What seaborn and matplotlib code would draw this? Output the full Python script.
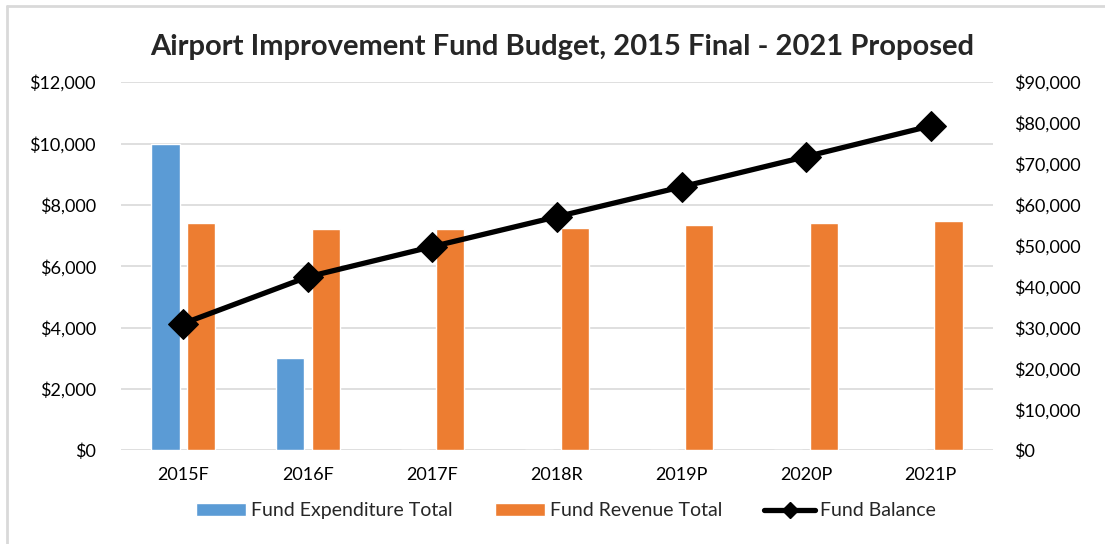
import matplotlib
matplotlib.use("Agg")
import matplotlib.pyplot as plt
import matplotlib.ticker as mticker
from matplotlib.lines import Line2D
from matplotlib.patches import Patch
import seaborn as sns
import pandas as pd
import numpy as np

categories = ["2015F", "2016F", "2017F", "2018R", "2019P", "2020P", "2021P"]
expenditure = [10000, 3000, 0, 0, 0, 0, 0]
revenue = [7400, 7200, 7200, 7250, 7330, 7400, 7480]
balance = [31000, 42400, 49800, 57100, 64400, 71800, 79300]

blue = "#5b9bd5"
orange = "#ed7d31"

sns.set_theme(style="white")
plt.rcParams["font.family"] = ["Lato", "DejaVu Sans"]

fig = plt.figure(figsize=(11.05, 5.44), dpi=100)
ax = fig.add_axes([0.1095, 0.1722, 0.7891, 0.6768])

df = pd.DataFrame({
    "category": categories * 2,
    "value": expenditure + revenue,
    "series": ["Fund Expenditure Total"] * len(categories) + ["Fund Revenue Total"] * len(categories),
})
sns.barplot(data=df, x="category", y="value", hue="series",
            palette=[blue, orange], width=0.572, gap=0.21, ax=ax,
            legend=False, saturation=1)

ax.set_ylim(0, 12000)
ax.set_xlim(-0.5, len(categories) - 0.5)
ax.yaxis.set_major_locator(mticker.MultipleLocator(2000))
ax.yaxis.set_major_formatter(mticker.FuncFormatter(lambda v, p: f"${v:,.0f}"))
ax.grid(axis="y", color="#d9d9d9", linewidth=1.2)
ax.set_axisbelow(True)
for s in ax.spines.values():
    s.set_visible(False)
ax.set_xlabel("")
ax.set_ylabel("")
ax.tick_params(axis="both", length=0, labelsize=13, colors="#000000")
ax.tick_params(axis="x", pad=12)
ax.tick_params(axis="y", pad=18)

ax2 = ax.twinx()
sns.lineplot(x=np.arange(len(categories)), y=balance, ax=ax2, color="black",
             linewidth=3.8, marker="D", markersize=15, markeredgecolor="black",
             legend=False)
ax2.set_ylim(0, 90000)
ax2.yaxis.set_major_locator(mticker.MultipleLocator(10000))
ax2.yaxis.set_major_formatter(mticker.FuncFormatter(lambda v, p: f"${v:,.0f}"))
for s in ax2.spines.values():
    s.set_visible(False)
ax2.grid(False)
ax2.set_ylabel("")
ax2.tick_params(axis="y", length=0, labelsize=13, pad=15, colors="#000000")

fig.text(0.509, 0.913, "Airport Improvement Fund Budget, 2015 Final - 2021 Proposed",
         ha="center", va="center", fontsize=21, fontweight="bold")

handles = [Patch(facecolor=blue), Patch(facecolor=orange),
           Line2D([0], [0], color="black", linewidth=3.8, marker="D", markersize=8)]
labels = ["Fund Expenditure Total", "Fund Revenue Total", "Fund Balance"]
fig.legend(handles, labels, loc="center", bbox_to_anchor=(0.512, 0.061), ncol=3,
           frameon=False, fontsize=14, handlelength=2.6, handleheight=0.65,
           handletextpad=0.26, columnspacing=2.15)

fig.add_artist(Line2D([7 / 1105, 7 / 1105], [0, 1 - 6 / 544], color="#d9d9d9", linewidth=2))
fig.add_artist(Line2D([7 / 1105, 1], [1 - 6 / 544, 1 - 6 / 544], color="#d9d9d9", linewidth=2))

fig.savefig("out.png", dpi=100, facecolor="white")
